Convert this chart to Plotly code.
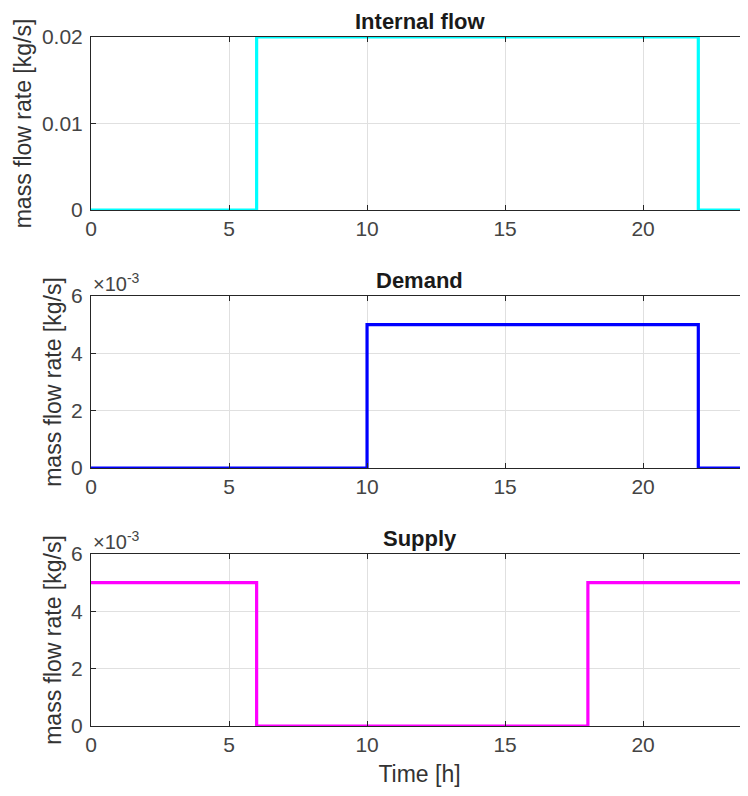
import plotly.graph_objects as go
from plotly.subplots import make_subplots

# Data (time in hours, mass flow rate in kg/s), step-wise
internal_time = [0, 6, 22, 24]
internal_flow = [0, 0.02, 0, 0]

demand_time = [0, 10, 22, 24]
demand_flow = [0, 0.005, 0, 0]

supply_time = [0, 6, 18, 24]
supply_flow = [0.005, 0, 0.005, 0.005]

titles = ["Internal flow", "Demand", "Supply"]
x_ticks = [0, 5, 10, 15, 20]
y_ticks_internal = [0, 0.01, 0.02]
y_ticklabels_internal = ["0", "0.01", "0.02"]
y_ticks_milli = [0, 0.002, 0.004, 0.006]
y_ticklabels_milli = ["0", "2", "4", "6"]

# page has an 8px body margin; figure coordinates are offset accordingly
W, H = 740, 788
ml, mr, mt, mb = 83, 0, 29, 70
ph = H - mt - mb

def dom(top_px, bot_px):
    return [(H - mb - bot_px) / ph, (H - mb - top_px) / ph]

domains = [dom(29, 202), dom(288, 460), dom(546, 718)]

fig = make_subplots(rows=3, cols=1)

series = [
    (internal_time, internal_flow, "#00FFFF"),
    (demand_time, demand_flow, "#0000FF"),
    (supply_time, supply_flow, "#FF00FF"),
]
for i, (t, v, c) in enumerate(series):
    fig.add_trace(go.Scatter(x=t, y=v, mode="lines", line=dict(color=c, width=3.2, shape="hv"),
                             cliponaxis=False, showlegend=False), row=i + 1, col=1)

font_family = "Liberation Sans, Arial, sans-serif"
axis_color = "#262626"
grid_color = "#e0e0e0"
tick_font = dict(family=font_family, size=21, color="#444444")
label_font = dict(family=font_family, size=23, color="#333333")

for i in range(3):
    xa = "xaxis" if i == 0 else f"xaxis{i+1}"
    ya = "yaxis" if i == 0 else f"yaxis{i+1}"
    fig.layout[ya].domain = domains[i]
    fig.layout[xa].update(
        range=[0, 23.8], tickvals=x_ticks, ticks="inside", ticklen=5, tickcolor=axis_color,
        showline=True, linecolor=axis_color, linewidth=1, mirror="ticks",
        showgrid=True, gridcolor=grid_color, gridwidth=1, zeroline=False,
        tickfont=tick_font,
    )
    if i == 0:
        yv, yt, yr = y_ticks_internal, y_ticklabels_internal, [0, 0.02]
    else:
        yv, yt, yr = y_ticks_milli, y_ticklabels_milli, [0, 0.006]
    fig.layout[ya].update(
        range=yr, tickvals=yv, ticktext=yt, ticks="inside", ticklen=5, tickcolor=axis_color,
        showline=True, linecolor=axis_color, linewidth=1, mirror=False,
        showgrid=True, gridcolor=grid_color, gridwidth=1, zeroline=False,
        tickfont=tick_font, ticklabelstandoff=3,
        title=dict(text="mass flow rate [kg/s]", font=label_font, standoff=3),
    )
    fig.add_annotation(text="<b>" + titles[i] + "</b>", xref="paper", yref="paper",
                       x=0.5, y=domains[i][1], yshift=1,
                       xanchor="center", yanchor="bottom", showarrow=False,
                       font=dict(family=font_family, size=22, color="#1a1a1a"))
    if i > 0:
        fig.add_annotation(text="×10<sup>-3</sup>", xref="paper", yref="paper",
                           x=0, y=domains[i][1], yshift=-1, xanchor="left", yanchor="bottom",
                           showarrow=False, font=dict(family=font_family, size=20, color="#444444"))

fig.layout["xaxis3"].title = dict(text="Time [h]", font=label_font, standoff=10)

fig.update_layout(width=W, height=H, margin=dict(l=ml, r=mr, t=mt, b=mb),
                  paper_bgcolor="white", plot_bgcolor="white")

fig.write_html("out.html")
